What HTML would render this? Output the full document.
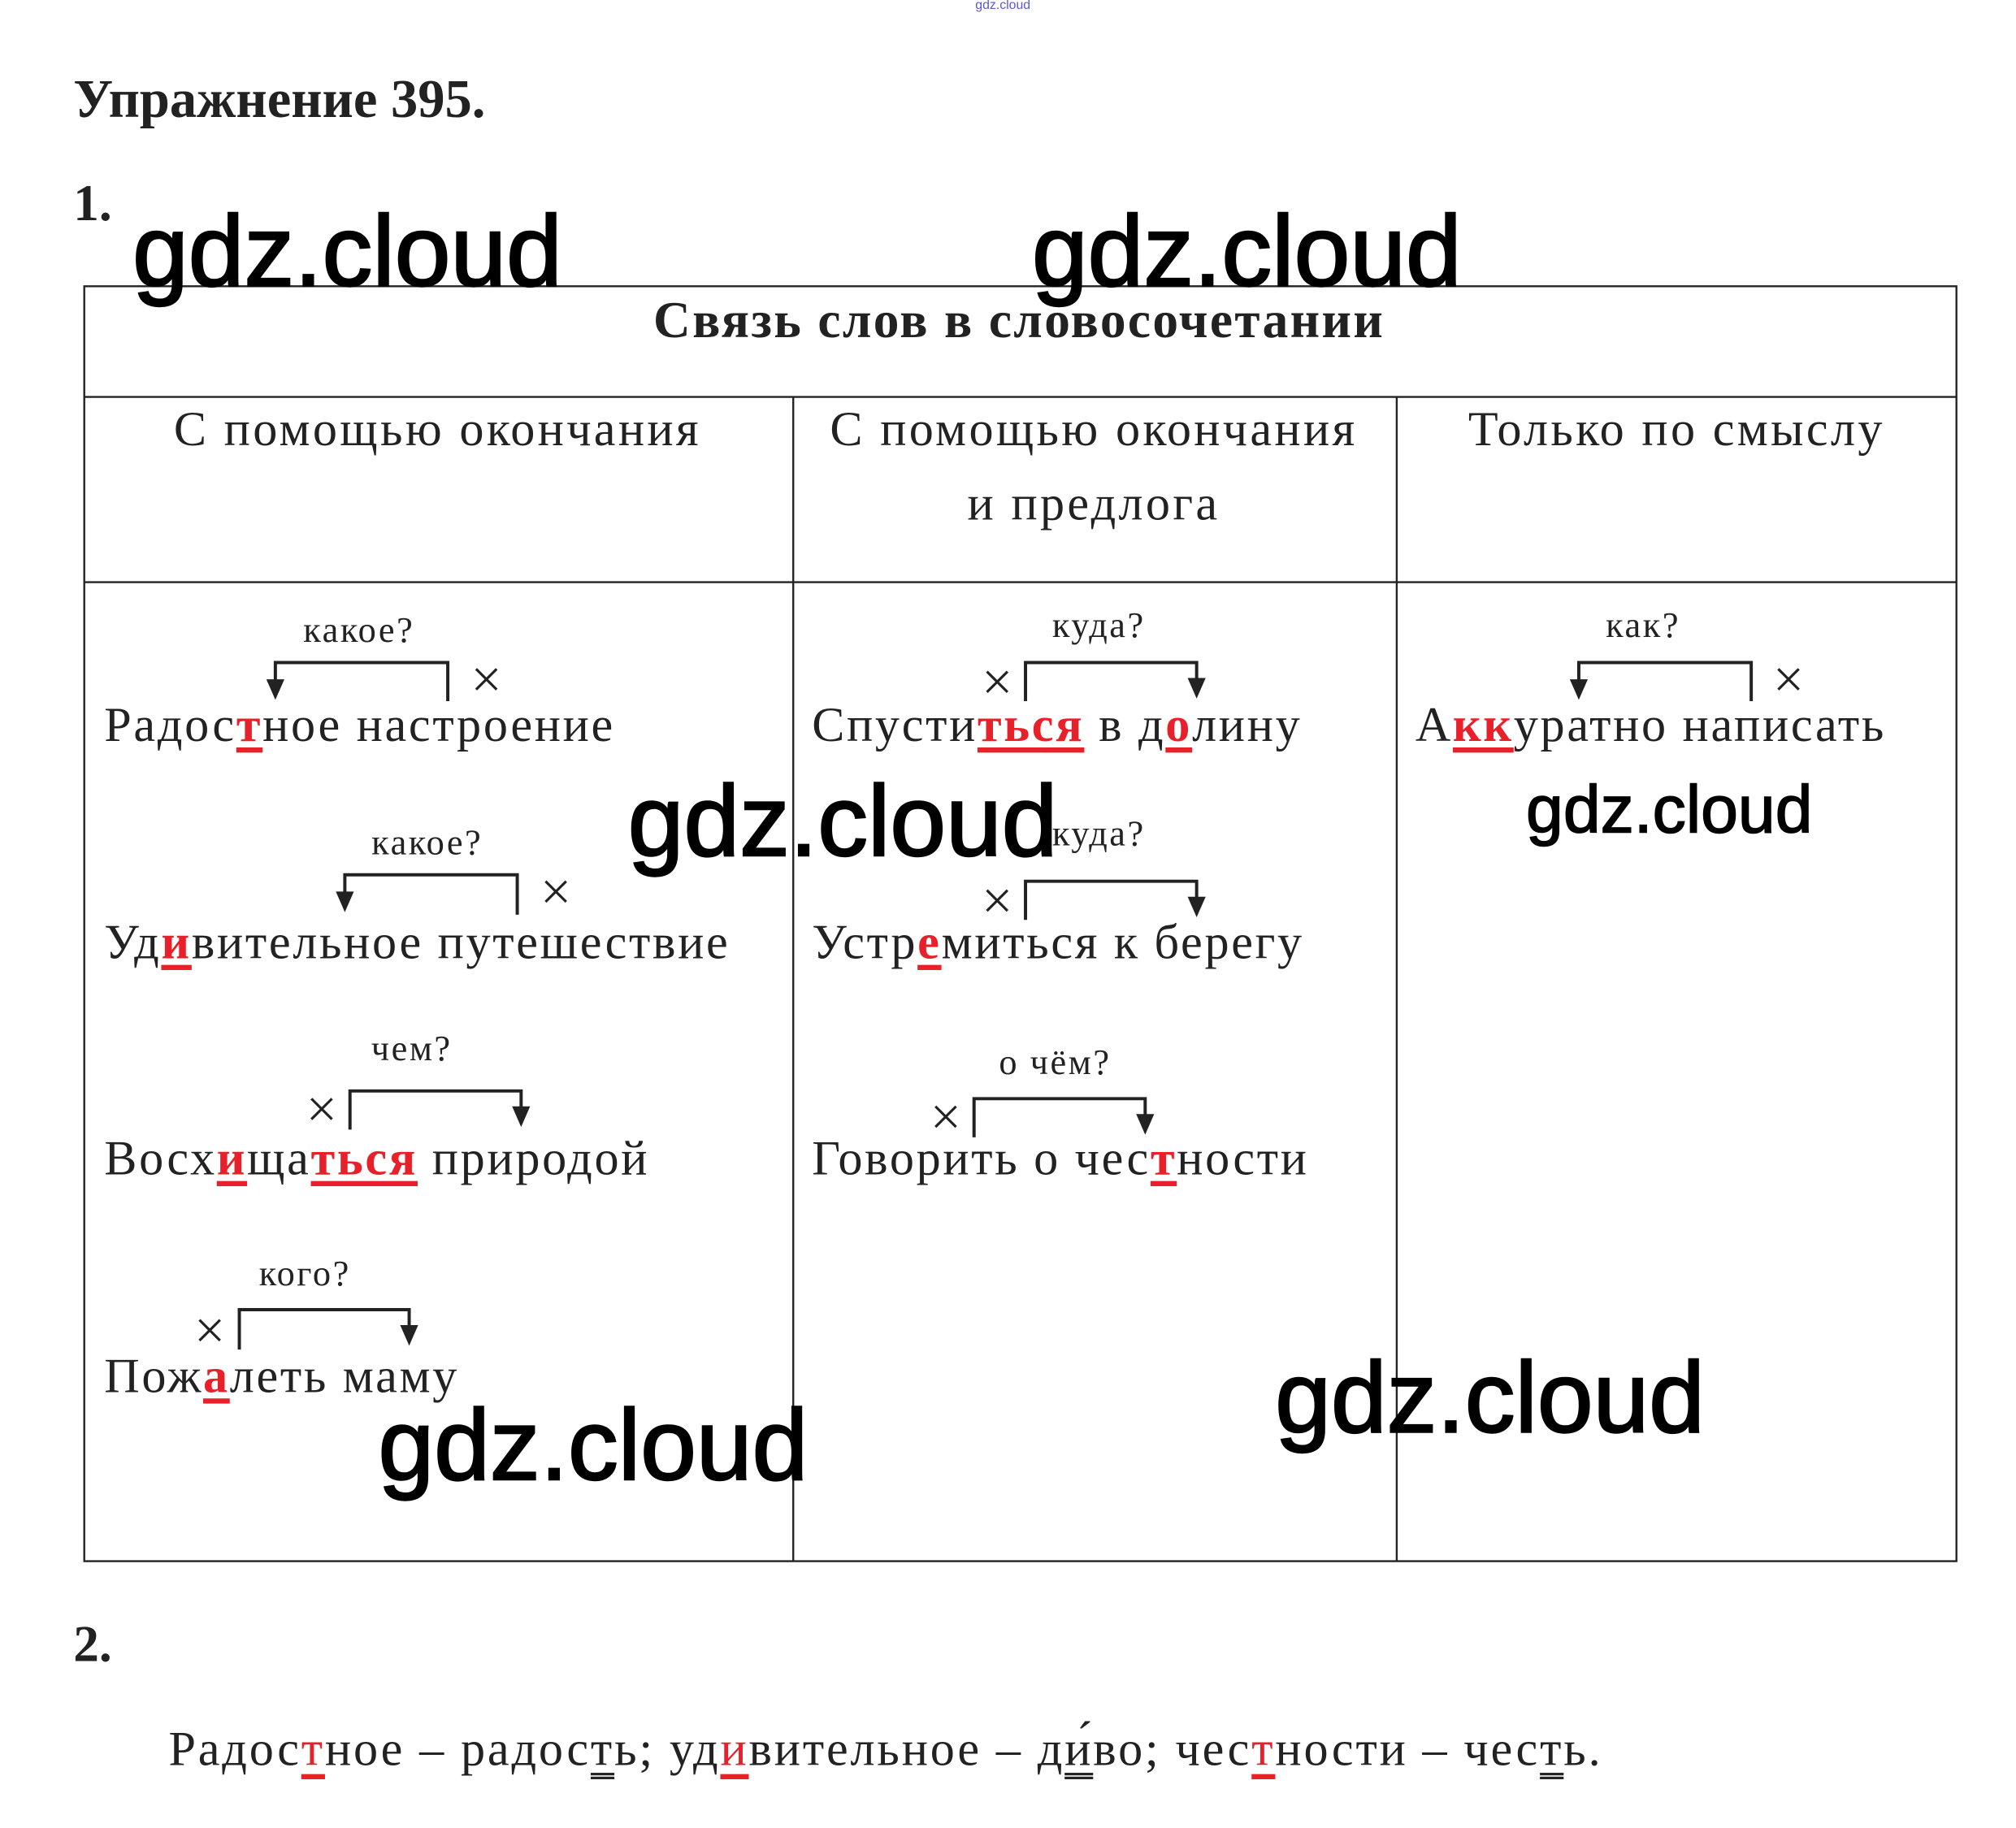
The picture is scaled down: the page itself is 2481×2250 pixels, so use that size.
<!DOCTYPE html>
<html><head><meta charset="utf-8"><style>
html,body{margin:0;padding:0;background:#fff;}
body{width:2481px;height:2250px;overflow:hidden;position:relative;}
#c{position:absolute;left:0;top:0;width:1568px;height:1421px;transform:scale(1.5835);transform-origin:0 0;}
.t{position:absolute;white-space:nowrap;font-family:"Liberation Serif",serif;line-height:1;color:#222;}
.b{font-weight:bold;}
.f38{font-size:38px;letter-spacing:1.7px;}
.h{letter-spacing:2.1px;}
.q{font-size:28px;width:200px;text-align:center;letter-spacing:1.6px;}
.r{color:#e8202a;font-weight:bold;text-decoration:underline;text-decoration-thickness:4px;text-underline-offset:5px;text-decoration-color:#e8202a;}
.rr{color:#e8202a;text-decoration:underline;text-decoration-thickness:4px;text-underline-offset:7px;text-decoration-color:#e8202a;}
.ku{text-decoration:underline double;text-decoration-thickness:2px;text-underline-offset:6px;}
.w{position:absolute;white-space:nowrap;font-family:"Liberation Sans",sans-serif;line-height:1;color:#000;font-size:78px;-webkit-text-stroke:1.5px #000;}
svg{position:absolute;left:0;top:0;}
</style></head><body><div id="c">
<div class="t" style="left:758px;top:0px;font-size:10px;color:#5a5ad8;font-family:'Liberation Sans',sans-serif;">gdz.cloud</div>
<div class="t b" style="left:57px;top:57px;font-size:42px;">Упражнение 395.</div>
<div class="t b" style="left:57px;top:138px;font-size:40px;">1.</div>

<svg width="1568" height="1421" viewBox="0 0 1568 1421">
<g stroke="#222" stroke-width="1.5" fill="none">
<rect x="65.5" y="222.5" width="1455" height="991"/>
<line x1="65" y1="308.5" x2="1521" y2="308.5"/>
<line x1="65" y1="452.5" x2="1521" y2="452.5"/>
<line x1="616.5" y1="308" x2="616.5" y2="1214"/>
<line x1="1085.5" y1="308" x2="1085.5" y2="1214"/>
</g>
<g stroke="#222" stroke-width="2.5" fill="none">
<polyline points="214,532 214,515 348,515 348,545"/>
<polyline points="268,697 268,680 402,680 402,711"/>
<polyline points="272,878 272,848 405,848 405,864"/>
<polyline points="186,1049 186,1018 318,1018 318,1034"/>
<polyline points="797,545 797,515 930,515 930,531"/>
<polyline points="797,715 797,685 930,685 930,701"/>
<polyline points="757,884 757,854 890,854 890,870"/>
<polyline points="1227,532 1227,515 1361,515 1361,545"/>
</g>
<g fill="#222">
<polygon points="207,528 221,528 214,544"/>
<polygon points="261,693 275,693 268,709"/>
<polygon points="398,860 412,860 405,876"/>
<polygon points="311,1030 325,1030 318,1046"/>
<polygon points="923,527 937,527 930,543"/>
<polygon points="923,697 937,697 930,713"/>
<polygon points="883,866 897,866 890,882"/>
<polygon points="1220,528 1234,528 1227,544"/>
</g>
<g stroke="#222" stroke-width="2">
<path d="M370,520 L386,536 M386,520 L370,536"/>
<path d="M424,685 L440,701 M440,685 L424,701"/>
<path d="M242,854 L258,870 M258,854 L242,870"/>
<path d="M155,1026 L171,1042 M171,1026 L155,1042"/>
<path d="M767,522 L783,538 M783,522 L767,538"/>
<path d="M767,692 L783,708 M783,692 L767,708"/>
<path d="M727,860 L743,876 M743,860 L727,876"/>
<path d="M1382,520 L1398,536 M1398,520 L1382,536"/>
</g>
</svg>

<div class="t b" style="left:442px;top:229px;width:700px;text-align:center;font-size:40px;letter-spacing:1.5px;">Связь слов в словосочетании</div>
<div class="t f38 h" style="left:90px;top:315px;width:500px;text-align:center;">С помощью окончания</div>
<div class="t f38 h" style="left:600px;top:315px;width:500px;text-align:center;">С помощью окончания</div>
<div class="t f38 h" style="left:600px;top:373px;width:500px;text-align:center;">и предлога</div>
<div class="t f38 h" style="left:1053px;top:315px;width:500px;text-align:center;">Только по смыслу</div>

<div class="t q" style="left:179px;top:477px;">какое?</div>
<div class="t f38" style="left:81px;top:545px;">Радос<span class="r">т</span>ное настроение</div>
<div class="t q" style="left:232px;top:642px;">какое?</div>
<div class="t f38" style="left:81px;top:714px;">Уд<span class="r">и</span>вительное путешествие</div>
<div class="t q" style="left:220px;top:802px;">чем?</div>
<div class="t f38" style="left:81px;top:882px;">Восх<span class="r">и</span>ща<span class="r">ться</span> природой</div>
<div class="t q" style="left:137px;top:977px;">кого?</div>
<div class="t f38" style="left:81px;top:1051px;">Пож<span class="r">а</span>леть маму</div>

<div class="t q" style="left:754px;top:473px;">куда?</div>
<div class="t f38" style="left:631px;top:545px;">Спусти<span class="r">ться</span> в д<span class="r">о</span>лину</div>
<div class="t q" style="left:754px;top:635px;">куда?</div>
<div class="t f38" style="left:631px;top:714px;">Устр<span class="r">е</span>миться к берегу</div>
<div class="t q" style="left:720px;top:813px;">о чём?</div>
<div class="t f38" style="left:631px;top:882px;">Говорить о чес<span class="r">т</span>ности</div>

<div class="t q" style="left:1177px;top:473px;">как?</div>
<div class="t f38" style="left:1100px;top:545px;">А<span class="r">кк</span>уратно написать</div>

<div class="t b" style="left:57px;top:1258px;font-size:40px;">2.</div>
<div class="t f38" style="left:131px;top:1341px;letter-spacing:1.8px;">Радос<span class="rr">т</span>ное – радос<span class="ku">т</span>ь; уд<span class="rr">и</span>вительное – д<span class="ku">и́</span>во; чес<span class="rr">т</span>ности – чес<span class="ku">т</span>ь.</div>

<div class="w" style="left:103px;top:156px;">gdz.cloud</div>
<div class="w" style="left:802px;top:156px;">gdz.cloud</div>
<div class="w" style="left:488px;top:599px;">gdz.cloud</div>
<div class="w" style="left:294px;top:1084px;">gdz.cloud</div>
<div class="w" style="left:991px;top:1047px;">gdz.cloud</div>
<div class="w" style="left:1186px;top:604px;font-size:52px;-webkit-text-stroke:1px #000;">gdz.cloud</div>
</div></body></html>
